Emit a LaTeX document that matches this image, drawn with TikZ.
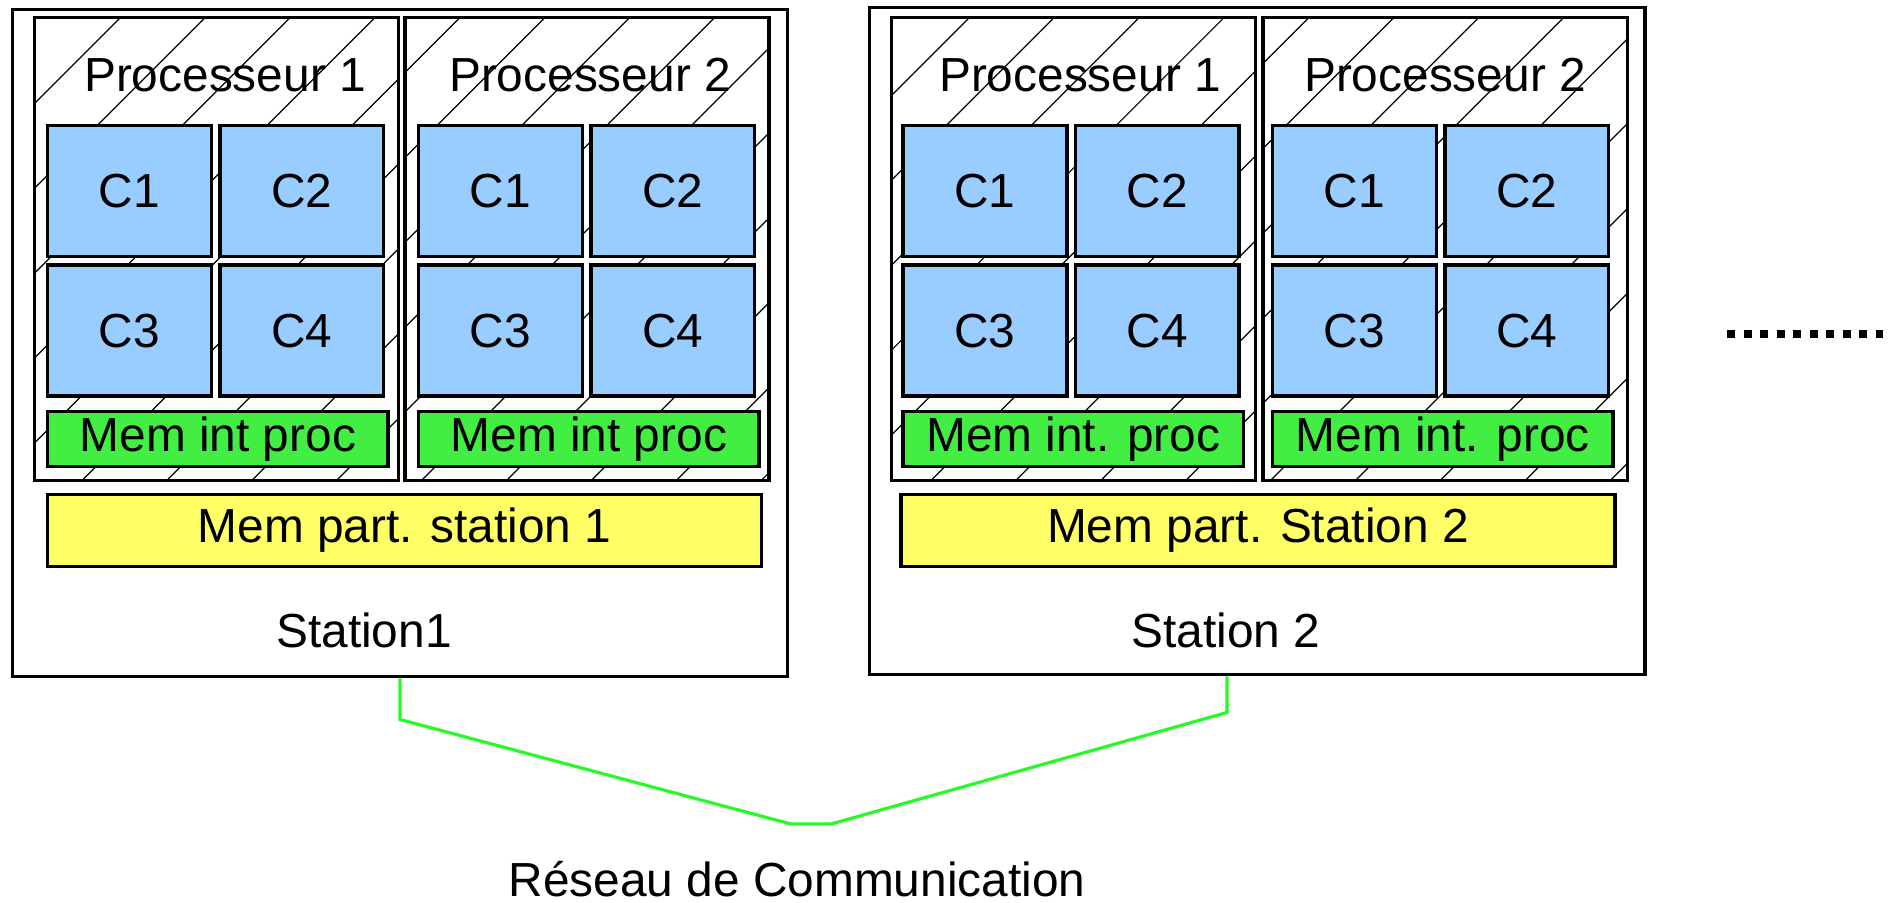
\documentclass[tikz,border=0pt]{standalone}
\usepackage{fontspec}
\setmainfont{Liberation Sans}
\usetikzlibrary{positioning, patterns.meta}
\definecolor{coreblue}{RGB}{153,204,255}
\definecolor{memgreen}{RGB}{66,238,66}
\definecolor{memyellow}{RGB}{255,255,102}
\definecolor{netgreen}{RGB}{40,250,40}
\newcommand{\diagfont}{\fontsize{13.6}{16}\selectfont}
\tikzset{
    stationbox/.style={rectangle, minimum width=7.75cm, minimum height=6.67cm, draw=black, line width=1pt},
    procbox/.style={rectangle, minimum width=3.64cm, minimum height=4.63cm, draw=black, line width=1pt, pattern={Lines[angle=45, distance=0.6cm, line width=0.35pt]}},
    corebox/.style={rectangle, minimum width=1.635cm, minimum height=1.31cm, inner sep=0, draw=black, line width=1pt, fill=coreblue, font=\diagfont},
    memint/.style={rectangle, minimum width=3.40cm, minimum height=0.55cm, inner sep=0, draw=black, line width=1pt, fill=memgreen, font=\diagfont},
    mempart/.style={rectangle, minimum width=7.14cm, minimum height=0.72cm, inner sep=0, draw=black, line width=1pt, fill=memyellow, font=\diagfont},
    txt/.style={inner sep=0, font=\diagfont},
    net/.style={draw=netgreen, line width=0.9pt},
    etc/.style={line width=0.08cm, dash pattern=on 0.08cm off 0.0853cm}
}

\begin{document}
\begin{tikzpicture}[x=0.01cm, y=-0.01cm]
    \path[fill=white, use as bounding box] (0,0) rectangle (1888,902);

    % Station 1
    \node (st1) [stationbox] at (400,343) {};
    \node (p11) [procbox] at (216.5,249) {};
    \node (p12) [procbox, right=0.04cm of p11] {};
    \node (lp11) [txt] at (225,75) {Processeur 1};
    \node (lp12) [txt] at (590,75) {Processeur 2};

    \node (c111) [corebox] at (129.5,191) {C1};
    \node (c112) [corebox, right=0.05cm of c111] {C2};
    \node (c113) [corebox, below=0.05cm of c111] {C3};
    \node (c114) [corebox, right=0.05cm of c113] {C4};
    \node (m11) [memint, below right=0.12cm and 0cm of c113.south west] {Mem int proc};

    \node (c121) [corebox] at (500.5,191) {C1};
    \node (c122) [corebox, right=0.05cm of c121] {C2};
    \node (c123) [corebox, below=0.05cm of c121] {C3};
    \node (c124) [corebox, right=0.05cm of c123] {C4};
    \node (m12) [memint, below right=0.12cm and 0cm of c123.south west] {Mem int proc};

    \node (sh1) [mempart] at (404.5,530.5) {Mem part. station 1};
    \node (lst1) [txt] at (364,630) {Station1};

    % Station 2
    \node (st2) [stationbox] at (1257,341) {};
    \node (p21) [procbox] at (1073.5,249) {};
    \node (p22) [procbox, right=0.04cm of p21] {};
    \node (lp21) [txt] at (1080,75) {Processeur 1};
    \node (lp22) [txt] at (1445,75) {Processeur 2};

    \node (c211) [corebox] at (985,191) {C1};
    \node (c212) [corebox, right=0.05cm of c211] {C2};
    \node (c213) [corebox, below=0.05cm of c211] {C3};
    \node (c214) [corebox, right=0.05cm of c213] {C4};
    \node (m21) [memint, below right=0.12cm and 0cm of c213.south west] {Mem int. proc};

    \node (c221) [corebox] at (1354.5,191) {C1};
    \node (c222) [corebox, right=0.05cm of c221] {C2};
    \node (c223) [corebox, below=0.05cm of c221] {C3};
    \node (c224) [corebox, right=0.05cm of c223] {C4};
    \node (m22) [memint, below right=0.12cm and 0cm of c223.south west] {Mem int. proc};

    \node (sh2) [mempart] at (1258,530.5) {Mem part. Station 2};
    \node (lst2) [txt] at (1226,630) {Station 2};

    % network
    \node (res) [txt] at (797,879) {Réseau de Communication};
    \coordinate (n1) at (791,824);
    \coordinate (n2) at (831,824);
    \coordinate (s2) at ([xshift=-0.3cm]st2.south);
    \draw [net] (st1.south) -- ++(0,41) -- (n1) -- (n2) -- ([yshift=-0.36cm]s2) -- (s2);

    \draw [etc] (1727,334) -- (1883,334);
\end{tikzpicture}
\end{document}
